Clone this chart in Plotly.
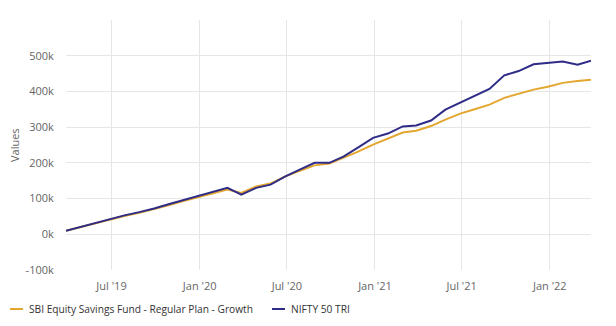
import plotly.graph_objects as go
import pandas as pd

dates = pd.date_range("2019-03-01", periods=37, freq="MS") + pd.Timedelta(days=27)
sbi_values = [10, 20.5, 31, 41, 51, 60, 70, 81, 93, 104, 115, 125, 116, 134, 142, 162,
              178, 193, 198, 214, 232, 251, 267, 285, 290, 303, 321, 338, 350, 363,
              382, 393, 405, 413, 424, 429, 433]
nifty_values = [10, 21, 32, 42, 53, 62, 72, 84, 96, 107, 118, 130, 111, 130, 139, 162,
                181, 200, 200, 218, 244, 270, 282, 302, 304.5, 318.5, 349, 368, 388, 407,
                445, 457, 476, 480, 484, 475, 486]
series_names = ["SBI Equity Savings Fund - Regular Plan - Growth", "NIFTY 50 TRI"]
series_colors = ["#E3A72F", "#2E2C86"]
y_tickvals = [-100, 0, 100, 200, 300, 400, 500, 600]
y_ticktext = ["-100k", "0k", "100k", "200k", "300k", "400k", "500k", ""]
x_tickvals = ["2019-07-01", "2020-01-01", "2020-07-01", "2021-01-01", "2021-07-01", "2022-01-01"]
x_ticktext = ["Jul '19", "Jan '20", "Jul '20", "Jan '21", "Jul '21", "Jan '22"]

W, H = 616, 326
L, R, T, B = 66, 25, 20, 56
PW, PH = W - L - R, H - T - B

def px2x(px):
    return (px - L) / PW

def px2y(py):
    return (H - B - py) / PH

fig = go.Figure()
for name, vals, col in zip(series_names, [sbi_values, nifty_values], series_colors):
    fig.add_trace(go.Scatter(x=dates, y=[v * 1000 for v in vals], mode="lines", name=name,
                             line=dict(color=col, width=2), showlegend=False))

font = "Open Sans, sans-serif"
fig.update_layout(
    width=W, height=H, margin=dict(l=L, r=R, t=T, b=B),
    paper_bgcolor="white", plot_bgcolor="white",
    font=dict(family=font, size=11, color="#666666"),
    xaxis=dict(range=[dates[0], dates[-1]], tickvals=x_tickvals, ticktext=x_ticktext,
               showgrid=True, gridcolor="#e6e6e6", gridwidth=1, zeroline=False,
               ticks="outside", ticklen=6, tickcolor="rgba(0,0,0,0)",
               tickfont=dict(size=11, color="#666666"), showline=False),
    yaxis=dict(range=[-100000, 600000], tickvals=[v * 1000 for v in y_tickvals], ticktext=y_ticktext,
               showgrid=True, gridcolor="#e6e6e6", gridwidth=1, zeroline=False,
               ticks="outside", ticklen=9, tickcolor="rgba(0,0,0,0)",
               tickfont=dict(size=11, color="#666666"), showline=False),
)

fig.add_annotation(text="Values", x=px2x(14), y=px2y(145), xref="paper", yref="paper",
                   textangle=-90, showarrow=False, font=dict(size=11, color="#666666"),
                   xanchor="center", yanchor="middle")

legend_x = [10, 272]
for lx, name, col in zip(legend_x, series_names, series_colors):
    fig.add_shape(type="line", xref="paper", yref="paper",
                  x0=px2x(lx), x1=px2x(lx + 13), y0=px2y(309), y1=px2y(309),
                  line=dict(color=col, width=2))
    fig.add_annotation(text=name, x=px2x(lx + 17), y=px2y(309), xref="paper", yref="paper",
                       showarrow=False, xanchor="left", yanchor="middle",
                       font=dict(size=10.2, color="#333333", family=font, weight=500))

fig.write_html("out.html")
